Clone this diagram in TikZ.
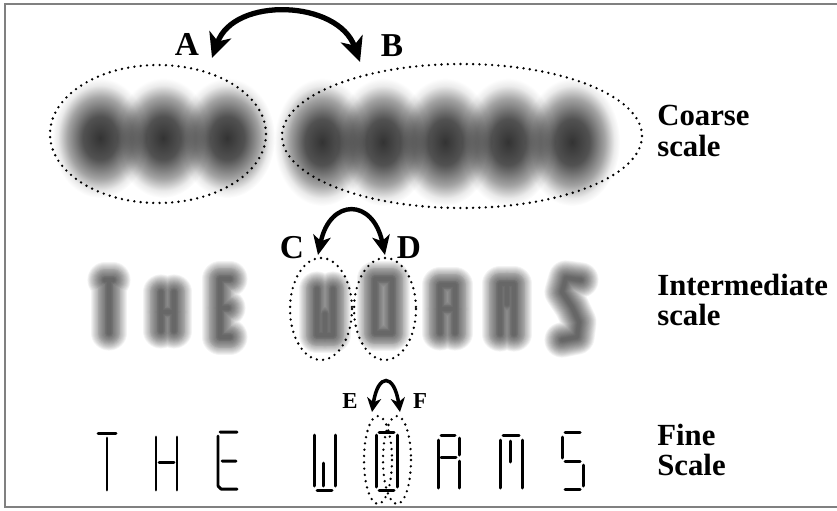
\documentclass[tikz,border=0pt]{standalone}
\usepackage{fontspec}
\setmainfont{Liberation Serif}
\usepackage{tikz}
\usetikzlibrary{positioning,arrows.meta,calc}

% soft blob for the coarse letters
\pgfdeclareradialshading{blob}{\pgfpoint{0bp}{0bp}}{color(0bp)=(black!80); color(9bp)=(black!68); color(17bp)=(black!36); color(22bp)=(black!8); color(25bp)=(white); color(50bp)=(white)}

% blurred stroke for the intermediate letters
\newcommand\blurstroke[1]{%
    \foreach \w in {2,...,20}{\draw[black,opacity=0.046,line width=\w pt,line cap=round,line join=round] #1;}}

\begin{document}
\begin{tikzpicture}[x=0.02cm,y=-0.02cm,
    dotring/.style={draw, line width=1.5pt, dash pattern=on 0pt off 3.6pt, line cap=round},
    seg/.style={line width=1.7pt, line cap=round, line join=round},
    softblob/.style={shading=blob, blend mode=multiply},
    swapbig/.style={line width=3pt, {Stealth[length=14pt,width=13pt,inset=4pt]}-{Stealth[length=14pt,width=13pt,inset=4pt]}},
    swapmid/.style={line width=2.5pt, {Stealth[length=11pt,width=10pt,inset=3pt]}-{Stealth[length=11pt,width=10pt,inset=3pt]}},
    swapsmall/.style={line width=2pt, {Stealth[length=8pt,width=8pt,inset=2.4pt]}-{Stealth[length=8pt,width=8pt,inset=2.4pt]}},
    tag/.style={font=\bfseries\fontsize{19}{19}\selectfont, inner sep=0pt},
    smalltag/.style={font=\bfseries\fontsize{13}{13}\selectfont, inner sep=0pt},
    scalelbl/.style={font=\bfseries\fontsize{17.5}{17.5}\selectfont, align=left, anchor=west, inner sep=0pt}]
    \useasboundingbox (0,0) rectangle (837,510);
    \draw[gray, line width=1.1pt] (837,4) -- (5,4) -- (5,507) -- (837,507);

    % coarse scale
    \foreach \cx in {100,163,227}
        \shade[softblob] (\cx,138) ellipse (48 and 60);
    \foreach \cx in {322,383,445,508,572}
        \shade[softblob] (\cx,142) ellipse (48 and 64);
    \draw[dotring] (158,134) ellipse (108 and 69);
    \draw[dotring] (462,136) ellipse (180 and 72);
    \node[tag] (labA) at (187,44) {A};
    \node[tag] (labB) at (392,46) {B};
    \coordinate (tipA) at (212,58);
    \coordinate (tipB) at (360,62);
    \draw[swapbig] (tipA) .. controls +(22,-62) and +(-22,-62) .. (tipB);
    \node[scalelbl] (coarse) at (657,131) {Coarse\\scale};

    % intermediate scale
    \blurstroke{(105,280) -- (113,280) (109,283) -- (109,333)}
    \blurstroke{(161,292) -- (161,331) (174,292) -- (174,331) (161,312) -- (174,312)}
    \blurstroke{(230,279) -- (220,279) -- (220,337) -- (230,337) (220,308) -- (228,308)}
    \blurstroke{(317,289) -- (317,335) -- (333,335) -- (333,289) (325,314) -- (325,335)}
    \blurstroke{(375,279) -- (392,279) -- (392,333) -- (375,333) -- cycle}
    \blurstroke{(440,333) -- (440,285) -- (455,285) -- (455,333) (440,309) -- (455,309)}
    \blurstroke{(500,334) -- (500,284) -- (514,284) -- (514,334) (507,284) -- (507,304)}
    \blurstroke{(581,280) -- (566,278) -- (562,292) -- (572,307) -- (579,322) -- (577,337) -- (562,340)}
    \draw[dotring] (321,309) ellipse (31 and 51);
    \draw[dotring] (385,309) ellipse (31 and 51);
    \node[tag] (labC) at (292,248) {C};
    \node[tag] (labD) at (409,248) {D};
    \coordinate (tipC) at (318,255);
    \coordinate (tipD) at (385,255);
    \draw[swapmid] (tipC) .. controls +(12,-57) and +(-12,-57) .. (tipD);
    \node[scalelbl] (inter) at (657,300) {Intermediate\\scale};

    % fine scale
    \draw[seg] (98,433) -- (116,433) (107,438) -- (107,490);
    \draw[seg] (156,437) -- (156,490) (177,437) -- (177,490) (159,462) -- (174,462);
    \draw[seg] (220,432) -- (237,432) (218,436) -- (218,486) (222,461) -- (236,461) (218,486) -- (221,489) -- (237,489);
    \draw[seg] (314,435) -- (314,486) (335,435) -- (335,486) (323,463) -- (323,486) (317,490) -- (332,490);
    \draw[seg] (376,435) -- (376,487) (397,435) -- (397,487) (379,432) -- (394,432) (379,490) -- (394,490);
    \draw[seg] (438,440) -- (438,488) (441,435) -- (455,435) (459,438) -- (459,455) (441,457) -- (456,457) (459,461) -- (459,488);
    \draw[seg] (500,440) -- (500,488) (522,440) -- (522,488) (503,435) -- (519,435) (510,441) -- (510,462);
    \draw[seg] (565,432) -- (580,432) (562,437) -- (562,458) (565,461) -- (580,461) (583,465) -- (583,486) (565,489) -- (580,489);
    \draw[dotring] (378,460) ellipse (14 and 44);
    \draw[dotring] (397,460) ellipse (14 and 44);
    \node[smalltag] (labE) at (350,401) {E};
    \node[smalltag] (labF) at (420,401) {F};
    \coordinate (tipE) at (372,412);
    \coordinate (tipF) at (400,412);
    \draw[swapsmall] (tipE) .. controls +(6,-39) and +(-6,-39) .. (tipF);
    \node[scalelbl] (fine) at (657,450) {Fine\\Scale};
\end{tikzpicture}
\end{document}
